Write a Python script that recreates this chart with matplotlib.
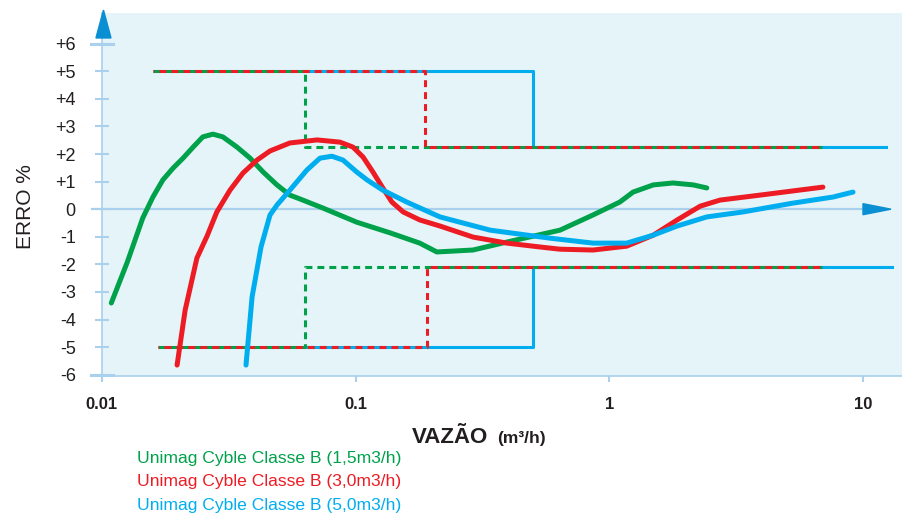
import numpy as np
import matplotlib
matplotlib.use("Agg")
import matplotlib.pyplot as plt
from matplotlib.patches import Polygon

# --------------------------------------------
# Data
# --------------------------------------------
green_x = [0.0109, 0.0126, 0.0145, 0.0159, 0.0174, 0.0191, 0.0209, 0.0229, 0.0250,
           0.0274, 0.0300, 0.0341, 0.0384, 0.0432, 0.0490, 0.0551, 0.0604, 0.0744,
           0.101, 0.137, 0.179, 0.209, 0.290, 0.395, 0.639, 0.862, 1.10, 1.24,
           1.49, 1.78, 2.14, 2.42]
green_y = [-3.40, -1.92, -0.32, 0.44, 1.06, 1.49, 1.85, 2.25, 2.62,
           2.72, 2.62, 2.25, 1.85, 1.35, 0.88, 0.51, 0.37, 0.04,
           -0.47, -0.86, -1.23, -1.55, -1.48, -1.19, -0.76, -0.21, 0.26, 0.62,
           0.88, 0.95, 0.88, 0.77]

red_x = [0.0198, 0.0213, 0.0237, 0.0260, 0.0284, 0.0320, 0.0360, 0.0409, 0.0460,
         0.0551, 0.0705, 0.0868, 0.0977, 0.107, 0.117, 0.128, 0.139, 0.154,
         0.179, 0.215, 0.290, 0.395, 0.533, 0.639, 0.862, 1.17, 1.49, 1.85,
         2.28, 2.73, 3.92, 6.94]
red_y = [-5.65, -3.66, -1.77, -0.97, -0.10, 0.69, 1.31, 1.78, 2.11,
         2.40, 2.51, 2.43, 2.25, 1.89, 1.35, 0.77, 0.26, -0.10,
         -0.39, -0.61, -1.01, -1.23, -1.37, -1.45, -1.48, -1.34, -0.94, -0.39,
         0.11, 0.33, 0.51, 0.80]

blue_x = [0.0370, 0.0391, 0.0424, 0.0460, 0.0490, 0.0551, 0.0643, 0.0724, 0.0807,
          0.0892, 0.101, 0.111, 0.128, 0.159, 0.215, 0.339, 0.583, 0.862,
          1.17, 1.49, 1.85, 2.42, 3.36, 5.29, 7.60, 9.12]
blue_y = [-5.65, -3.18, -1.37, -0.21, 0.15, 0.69, 1.42, 1.85, 1.92,
          1.78, 1.35, 1.06, 0.69, 0.26, -0.28, -0.76, -1.05, -1.23,
          -1.23, -0.94, -0.61, -0.28, -0.10, 0.22, 0.44, 0.62]

# tolerance limits (upper / lower) per meter
green_up_x = [0.0159, 0.0632, 0.0632, 6.88]
green_lo_x = [0.0166, 0.0632, 0.0632, 6.88]
red_up_x = [0.0159, 0.188, 0.188, 6.88]
red_lo_x = [0.0166, 0.192, 0.192, 6.88]
blue_up_x = [0.0632, 0.50, 0.50, 12.3]
blue_lo_x = [0.0632, 0.50, 0.50, 13.0]
limit_up_y = [5, 5, 2.25, 2.25]
limit_lo_y = [-5, -5, -2.1, -2.1]

y_ticks = [6, 5, 4, 3, 2, 1, 0, -1, -2, -3, -4, -5, -6]
y_labels = ["+6", "+5", "+4", "+3", "+2", "+1", "0", "-1", "-2", "-3", "-4", "-5", "-6"]
x_ticks = [0.01, 0.1, 1, 10]
x_labels = ["0.01", "0.1", "1", "10"]

legend_labels = ["Unimag Cyble Classe B (1,5m3/h)",
                 "Unimag Cyble Classe B (3,0m3/h)",
                 "Unimag Cyble Classe B (5,0m3/h)"]

GREEN = "#00a14b"
RED = "#ed1c24"
BLUE = "#00aeef"
AXIS = "#a9d0ec"
ARROW = "#0a8fd2"
BG = "#e5f4f8"
INK = "#231f20"

plt.rcParams["font.family"] = ["Liberation Sans", "DejaVu Sans"]
plt.rcParams["lines.scale_dashes"] = False

# --------------------------------------------
# Figure
# --------------------------------------------
fig = plt.figure(figsize=(9.02, 5.17), dpi=100)
ax = fig.add_axes([0.11286, 0.2725, 0.8871, 0.7018])
ax.set_facecolor(BG)
ax.set_xscale("log")
ax.set_xlim(0.01, 14.22)
ax.set_ylim(-6.05, 7.1)

# limit lines
ax.plot(blue_up_x, limit_up_y, color=BLUE, lw=2.2, zorder=2)
ax.plot(blue_lo_x, limit_lo_y, color=BLUE, lw=2.2, zorder=2)
for xs, ys in [(green_up_x, limit_up_y), (green_lo_x, limit_lo_y)]:
    ax.plot(xs, ys, color=GREEN, lw=2.2, linestyle=(0, (5, 3.6)), zorder=3)
for xs, ys in [(red_up_x, limit_up_y), (red_lo_x, limit_lo_y)]:
    ax.plot(xs, ys, color=RED, lw=2.2, linestyle=(4.3, (5, 3.6)), zorder=4)

# zero line + arrows
ax.axhline(0, xmin=-0.0123, xmax=0.954, color=AXIS, lw=1.6, clip_on=False, zorder=1)
ax.add_patch(Polygon([[0.9513, 0.2], [0.9513, -0.2], [0.9863, 0]], closed=True,
                     transform=ax.get_yaxis_transform(), color=ARROW, clip_on=False, zorder=5))
ax.add_patch(Polygon([[-0.0073, 0.932], [0.0115, 0.932], [0.0021, 1.009]], closed=True,
                     transform=ax.transAxes, color=ARROW, clip_on=False, zorder=5))
for v in (6, -6):
    ax.plot([-0.0137, 0.014], [v, v], color=AXIS, lw=2.2, clip_on=False,
            transform=ax.get_yaxis_transform(), zorder=1)

# curves
kw = dict(lw=3.6, solid_joinstyle="round", solid_capstyle="round", zorder=6)
ax.plot(green_x, green_y, color=GREEN, **kw)
ax.plot(red_x, red_y, color=RED, **kw)
ax.plot(blue_x, blue_y, color=BLUE, **kw)

# axes styling
for s in ("top", "right"):
    ax.spines[s].set_visible(False)
for s in ("left", "bottom"):
    ax.spines[s].set_color(AXIS)
    ax.spines[s].set_linewidth(1.2)

ax.set_yticks(y_ticks)
ax.set_yticklabels(y_labels)
ax.tick_params(axis="y", direction="inout", length=9.4, width=1.5, color=AXIS,
               pad=14, labelsize=13, labelcolor=INK)
ax.set_xticks(x_ticks)
ax.set_xticklabels(x_labels, fontweight="bold")
ax.xaxis.set_minor_locator(matplotlib.ticker.NullLocator())
ax.tick_params(axis="x", direction="out", length=4.3, width=1.5, color=AXIS,
               pad=10.5, labelsize=12, labelcolor=INK)

fig.text(0.028, 0.60, "ERRO %", rotation=90, fontsize=15, color=INK,
         ha="center", va="center")
fig.text(0.4568, 0.1431, "VAZÃO", fontsize=16, fontweight="bold", color=INK,
         ha="left", va="baseline")
fig.text(0.551, 0.1431, "(m³/h)", fontsize=12.5, fontweight="bold", color=INK,
         ha="left", va="baseline")

for lab, col, yy in zip(legend_labels, [GREEN, RED, BLUE], [0.1122, 0.0677, 0.0213]):
    fig.text(0.1519, yy, lab, color=col, fontsize=12.6, ha="left", va="center")

fig.savefig("out.png", dpi=100)
